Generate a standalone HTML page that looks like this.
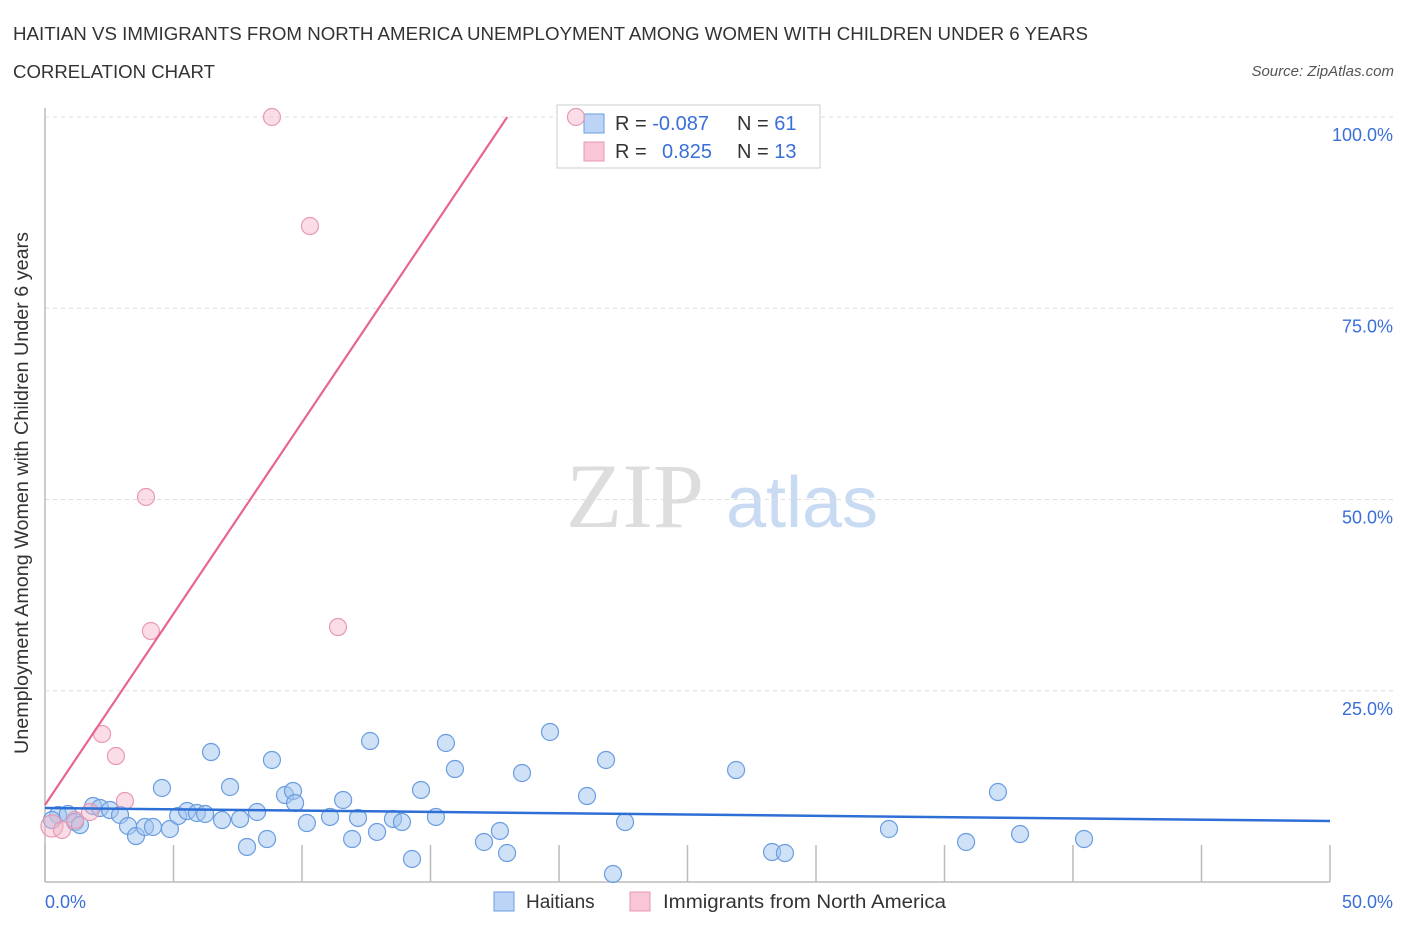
<!DOCTYPE html>
<html><head><meta charset="utf-8"><style>
body{margin:0;background:#fff;font-family:"Liberation Sans",sans-serif;}
</style></head><body>
<svg width="1406" height="930" xmlns="http://www.w3.org/2000/svg" font-family="Liberation Sans, sans-serif">
<text x="13" y="40" font-size="18" fill="#333" textLength="1075" lengthAdjust="spacingAndGlyphs">HAITIAN VS IMMIGRANTS FROM NORTH AMERICA UNEMPLOYMENT AMONG WOMEN WITH CHILDREN UNDER 6 YEARS</text>
<text x="13" y="78" font-size="18" fill="#333" textLength="202" lengthAdjust="spacingAndGlyphs">CORRELATION CHART</text>
<text x="1394" y="76" font-size="15" fill="#555" font-style="italic" text-anchor="end">Source: ZipAtlas.com</text>
<g>
<text x="635" y="527" font-size="92" fill="#ddd" font-family="Liberation Serif, serif" text-anchor="middle">ZIP</text>
<text x="802" y="527" font-size="72" fill="#c9dbf2" text-anchor="middle">atlas</text>
</g>
<g id="grid"></g>
<g id="axes"></g>
<g>
<rect x="557" y="105" width="263" height="63" fill="#fff" stroke="#ccc"/>
<rect x="584" y="114" width="20" height="19" fill="#bcd4f6" stroke="#6a9de0"/>
<rect x="584" y="142" width="20" height="19" fill="#f8c6d6" stroke="#e89ab2"/>
<text x="615" y="130" font-size="20" fill="#333">R = <tspan fill="#3a6fd8">-0.087</tspan></text>
<text x="737" y="130" font-size="20" fill="#333">N = <tspan fill="#3a6fd8">61</tspan></text>
<text x="615" y="158" font-size="20" fill="#333">R = <tspan fill="#3a6fd8" x="662">0.825</tspan></text>
<text x="737" y="158" font-size="20" fill="#333">N = <tspan fill="#3a6fd8">13</tspan></text>
</g>
<g id="pts"></g>
<g id="lines"></g>
<text x="28" y="493" font-size="19" fill="#333" text-anchor="middle" textLength="522" lengthAdjust="spacingAndGlyphs" transform="rotate(-90 28 493)">Unemployment Among Women with Children Under 6 years</text>
<text x="45" y="908" font-size="18" fill="#3a6fd8">0.0%</text>
<text x="1393" y="908" font-size="18" fill="#3a6fd8" text-anchor="end">50.0%</text>
<g>
<rect x="494" y="892" width="20" height="19" fill="#bcd4f6" stroke="#6a9de0"/>
<text x="526" y="908" font-size="19" fill="#333">Haitians</text>
<rect x="630" y="892" width="20" height="19" fill="#f8c6d6" stroke="#e89ab2"/>
<text x="663" y="908" font-size="19" fill="#333" textLength="283" lengthAdjust="spacingAndGlyphs">Immigrants from North America</text>
</g>
</svg>
<script>
const blueX=[0.51,0.89,1.17,1.36,1.87,2.14,2.53,2.92,3.23,3.54,3.89,4.20,4.55,4.86,5.18,5.53,5.91,6.23,6.46,6.89,7.20,7.59,7.86,8.25,8.64,8.83,9.34,9.65,9.73,10.19,11.09,11.60,11.95,12.18,12.65,12.92,13.54,13.89,14.28,14.63,15.21,15.60,15.95,17.08,17.70,17.98,18.56,19.65,21.09,21.83,22.10,22.57,26.89,28.29,28.79,32.84,35.84,37.08,37.94,40.43,0.27];
const blueY=[8.76,8.89,7.84,7.45,9.93,9.67,9.41,8.76,7.32,6.01,7.19,7.19,12.29,6.93,8.63,9.28,9.02,8.89,16.99,8.10,12.42,8.24,4.58,9.15,5.62,15.95,11.37,11.90,10.33,7.71,8.50,10.72,5.62,8.37,18.43,6.54,8.24,7.84,3.01,12.03,8.50,18.17,14.77,5.23,6.67,3.79,14.25,19.61,11.24,15.95,1.05,7.84,14.64,3.92,3.79,6.93,5.23,11.76,6.27,5.62,8.10];
const pinkX=[0.27,0.66,1.17,1.75,2.22,2.76,3.11,3.93,4.12,8.83,10.31,11.40,20.66];
const pinkY=[7.32,6.80,8.10,9.15,19.35,16.47,10.59,50.33,32.81,100,85.75,33.33,100];
const blueTrend=[9.67,7.97]; // y at x=0 and x=50
const pinkTrend=[10.07,5.0]; // intercept, slope per %
const yTicks=[25,50,75,100];
const xTicks=[0,5,10,15,20,25,30,35,40,45,50];
const NS="http://www.w3.org/2000/svg";
const sx=v=>45+v/50*1285, sy=v=>882-v/100*765;
function mk(tag,attrs,parent){const e=document.createElementNS(NS,tag);for(const k in attrs)e.setAttribute(k,attrs[k]);document.getElementById(parent).appendChild(e);return e;}
yTicks.forEach(t=>{
  const l=mk('line',{x1:45,x2:1393,y1:sy(t),y2:sy(t),stroke:'#ddd','stroke-dasharray':'4,4'},'grid');
  
  
  const tx=mk('text',{x:1393,y:sy(t)+24,'font-size':18,fill:'#3a6fd8','text-anchor':'end'},'grid');
  tx.textContent=t.toFixed(1)+'%';
  
  
});
const xa=mk('line',{x1:45,x2:1330,y1:882,y2:882,stroke:'#bbb','stroke-width':1.5},'axes');


const ya=mk('line',{x1:45,x2:45,y1:108,y2:882,stroke:'#bbb','stroke-width':1.5},'axes');


xTicks.forEach(t=>{
  const l=mk('line',{x1:sx(t),x2:sx(t),y1:845,y2:882,stroke:'#bbb','stroke-width':1.5},'axes');
  
  
});
blueX.forEach((x,i)=>{
  const c=mk('circle',{cx:sx(x),cy:sy(blueY[i]),r:8.5,fill:'rgba(160,195,240,0.5)',stroke:'#6a9de0','stroke-width':1.2},'pts');
  
  
});
pinkX.forEach((x,i)=>{
  const c=mk('circle',{cx:sx(x),cy:sy(pinkY[i]),r:i==0?11:8.5,fill:'rgba(245,180,200,0.45)',stroke:'#e89ab2','stroke-width':1.2},'pts');
  
  
});
const bl=mk('line',{x1:sx(0),y1:sy(blueTrend[0]),x2:sx(50),y2:sy(blueTrend[1]),stroke:'#2e6fd6','stroke-width':2.5},'lines');


const xe=(100-pinkTrend[0])/pinkTrend[1];
const pl=mk('line',{x1:sx(0),y1:sy(pinkTrend[0]),x2:sx(xe),y2:sy(100),stroke:'#e8658e','stroke-width':2.2},'lines');


</script>
</body></html>
